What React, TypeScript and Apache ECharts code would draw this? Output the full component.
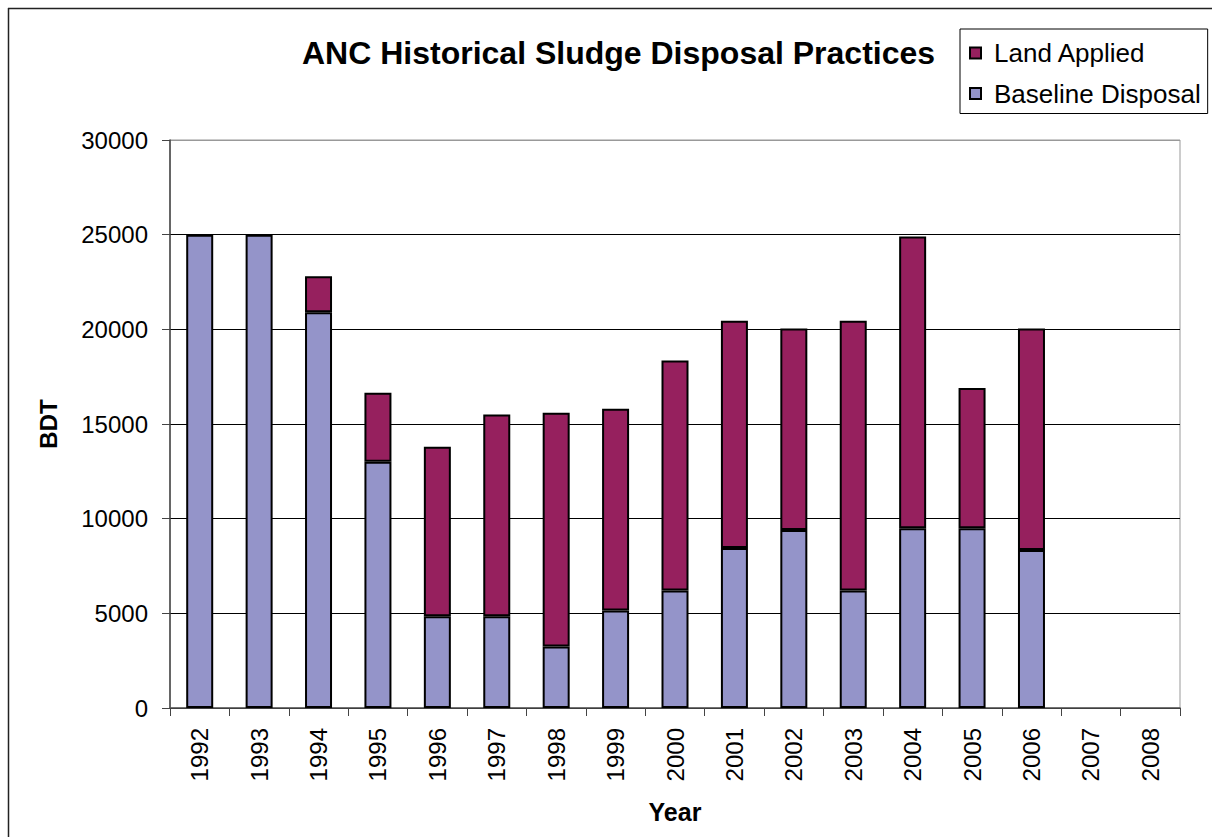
import React, { useEffect, useRef } from "react";
import * as echarts from "echarts";

const years = ["1992","1993","1994","1995","1996","1997","1998","1999","2000","2001","2002","2003","2004","2005","2006","2007","2008"];
const baselineDisposal = [25000, 25000, 20900, 13000, 4850, 4850, 3250, 5150, 6200, 8450, 9400, 6200, 9500, 9500, 8350, null, null];
const landApplied = [null, null, 1900, 3650, 8950, 10650, 12350, 10650, 12150, 12000, 10650, 14250, 15400, 7400, 11700, null, null];

const FONT = "'Liberation Sans', Arial, Helvetica, sans-serif";

export default function App() {
  const ref = useRef<HTMLDivElement>(null);
  useEffect(() => {
    if (!ref.current) return;
    const chart = echarts.init(ref.current, null, { renderer: "svg" });
    chart.setOption({
      animation: false,
      backgroundColor: "#ffffff",
      textStyle: { fontFamily: FONT },
      title: {
        text: "ANC Historical Sludge Disposal Practices",
        left: 302,
        top: 37,
        padding: 0,
        textStyle: { fontFamily: FONT, fontSize: 32, fontWeight: "bold", color: "#000" },
      },
      legend: {
        data: ["Land Applied", "Baseline Disposal"],
        orient: "vertical",
        left: 960,
        top: 29,
        padding: [11, 7, 7, 9],
        itemGap: 14.5,
        itemWidth: 11,
        itemHeight: 11,
        icon: "rect",
        borderColor: "#000",
        borderWidth: 1,
        textStyle: { fontFamily: FONT, fontSize: 26, color: "#000", padding: [0, 0, 0, 8] },
      },
      graphic: [
        { type: "line", shape: { x1: 8.5, y1: 8, x2: 8.5, y2: 837 }, style: { stroke: "#222", lineWidth: 1.5 } },
        { type: "line", shape: { x1: 8, y1: 8.5, x2: 1212, y2: 8.5 }, style: { stroke: "#222", lineWidth: 1.5 } },
      ],
      grid: {
        left: 170,
        top: 140,
        right: 32,
        bottom: 129,
        show: true,
        borderColor: "#999",
        borderWidth: 1,
        containLabel: false,
      },
      xAxis: {
        type: "category",
        data: years,
        name: "Year",
        nameLocation: "middle",
        nameGap: 91,
        nameTextStyle: { fontFamily: FONT, fontSize: 25, fontWeight: "bold", color: "#000" },
        axisLine: { lineStyle: { color: "#555", width: 1.5 } },
        axisTick: { show: true, length: 8, lineStyle: { color: "#444" } },
        axisLabel: { rotate: 90, fontFamily: FONT, fontSize: 24, color: "#000", margin: 20, interval: 0 },
      },
      yAxis: {
        type: "value",
        min: 0,
        max: 30000,
        interval: 5000,
        name: "BDT",
        nameLocation: "middle",
        nameGap: 110,
        nameTextStyle: { fontFamily: FONT, fontSize: 24, fontWeight: "bold", color: "#000" },
        axisLine: { show: true, lineStyle: { color: "#444", width: 1.5 } },
        axisTick: { show: true, length: 8, lineStyle: { color: "#444" } },
        axisLabel: {
          fontFamily: FONT,
          fontSize: 24,
          color: "#000",
          margin: 22,
          formatter: (v: number) => String(v),
        },
        splitLine: {
          show: true,
          lineStyle: { color: ["#000", "#000", "#000", "#000", "#000", "#000", "#999"], width: 1 },
        },
      },
      series: [
        {
          name: "Baseline Disposal",
          type: "bar",
          stack: "total",
          data: baselineDisposal,
          barWidth: 27,
          itemStyle: { color: "#9494C9", borderColor: "#000", borderWidth: 2 },
        },
        {
          name: "Land Applied",
          type: "bar",
          stack: "total",
          data: landApplied,
          barWidth: 27,
          itemStyle: { color: "#96205E", borderColor: "#000", borderWidth: 2 },
        },
      ],
    });
    return () => chart.dispose();
  }, []);
  return <div ref={ref} style={{ position: "absolute", left: 0, top: 0, width: 1212, height: 837 }} />;
}
